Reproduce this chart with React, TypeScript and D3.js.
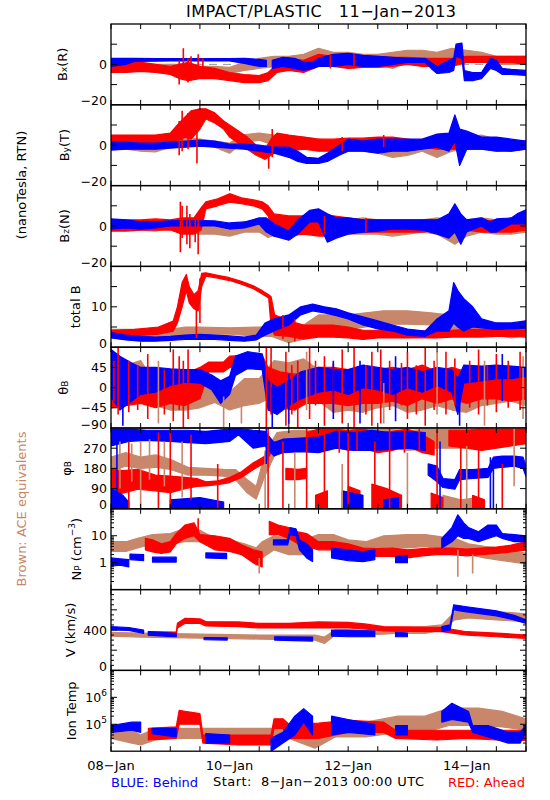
import React from 'react';
import * as d3 from 'd3';

type Pt = [number, number, number];
type Seg = Pt[];

const RED = '#ff0000';
const BLUE = '#0000ff';
const BROWN = '#c8876a';

// ---------- time axis (days since 08-Jan-2013 00:00) ----------
const DAY_TICKS = d3.range(0, 7.001, 0.5);
const DATE_LABEL_DAYS = [0, 2, 4, 6];
const DATE_LABELS = ['08\u2212Jan', '10\u2212Jan', '12\u2212Jan', '14\u2212Jan'];

// ---------- Bx (nT) ----------
const bxBrown: Seg[] = [[[0,-3,0],[0.25,-2,1],[0.5,-2,1],[0.75,-3,0],[1,-3,0],[1.25,-4,0],[1.5,-4,-1],[1.75,-4,-1],[2,-4.5,-1.5],[2.25,-3,1],[2.5,-2,3],[2.75,-1,4],[3,0,4],[3.25,1,5],[3.5,2,8],[3.75,0,6],[4,0,6],[4.25,-1,5],[4.5,0,5],[4.75,-2,6],[5,1,7],[5.25,2,7],[5.5,1,6],[5.75,2,8],[6,2,7],[6.25,2,6],[6.5,0,4],[6.75,0,4],[7,0,4]]];
const bxRed: Seg[] = [[[0,-4,1],[0.25,-4,1],[0.5,-3.5,1],[0.75,-4,0],[1,-5,-1],[1.15,-7,0],[1.3,-8,1],[1.5,-7,-1],[1.75,-7,-2],[2,-8,-4],[2.25,-9,-5],[2.5,-9,-5.5],[2.65,-8,-4],[2.8,-4,0],[3,-3,3],[3.25,-4,2],[3.5,-1,5],[3.75,-1,4],[4,-2,4],[4.25,-1.5,4],[4.5,-1.5,4],[4.75,-1,3.5],[5,0,3.5],[5.25,-1,3],[5.5,-1,3],[5.75,-1,3],[6,1,4],[6.25,1,4],[6.5,1,4],[6.75,1,4],[7,0,4]]];
const bxRedSpikes: Pt[] = [[1.15,-10,2],[1.22,-6,8],[1.3,-9,3],[1.35,-8,4],[1.47,-6,5],[1.55,-4,3],[3.7,-2,5],[4.1,-2,5]];
const bxBlue: Seg[] = [
  [[0,-1,3],[0.25,0,3],[0.4,1.5,3],[0.75,1.6,2.9],[1,1.7,2.9],[1.5,1.7,2.9],[2,1.7,2.9],[2.25,0.5,3],[2.5,-1,2.5],[2.62,-1,2]],
  [[2.72,-2,2],[2.9,-1,3.5],[3.1,-2,3],[3.25,-3,1],[3.4,-2,1],[3.5,-1,3],[3.75,-1,5],[4,0,5.5],[4.25,-1,4.5],[4.5,-1,4],[4.75,0,3.5],[5,1,3],[5.3,1,3],[5.4,-2,1],[5.5,-4.5,-1],[5.7,-4,2],[5.78,-3,3],[5.82,4,10],[5.92,3,10.5],[5.96,-8,-3],[6.1,-8,-4],[6.25,-7,-4],[6.4,-2,3],[6.5,-3,2],[6.6,-5,-2],[6.75,-5,-2.5],[7,-5.5,-3]],
];

// ---------- By (nT) ----------
const byBrown: Seg[] = [[[0,-2,3],[0.25,-2,3],[0.5,-3,2],[0.75,-3.3,1],[1,-1,3],[1.25,0,4],[1.5,0,3],[1.75,-1,2],[2,-4,1],[2.2,1,5],[2.5,2.5,6],[2.75,0,5],[3,-1,4],[3.25,-1,4],[3.5,-2,3],[3.75,-3,2],[4,-3,2],[4.25,-3,2],[4.5,-4,2],[4.75,-6,0],[5,-5,0],[5.25,-3,3],[5.5,-6,2],[5.75,-3,3],[6,-2,4],[6.25,-2,5],[6.5,-3,3],[6.75,-2,2],[7,-1,2]]];
const byRed: Seg[] = [[[0,1,5],[0.25,1,5],[0.5,0,5],[0.75,1,5],[1,0,6],[1.12,2,10],[1.25,4,14],[1.35,3,17],[1.5,8,18],[1.6,13,18],[1.75,11,16],[1.9,8,12],[2,4,10],[2.15,1,7],[2.3,-2,4],[2.45,-5,0],[2.6,-7,-2],[2.7,-5,3],[2.8,-3,6],[3,-3,5],[3.25,-2,4],[3.5,-3,3],[3.75,-3,3],[4,-2,3.5],[4.25,-2,3.5],[4.5,-1,4],[4.75,-1,4],[5,-2,3],[5.25,-1,2],[5.5,-2,1],[5.75,-2,1],[6,-2,3],[6.25,-2,3],[6.5,-2,3],[6.75,-3,2],[7,-2,2]]];
const byRedSpikes: Pt[] = [[1.15,-5,12],[1.2,-3,17],[1.3,-2,16],[1.45,-9,10],[2.66,-11.7,-4],[2.72,-6,8],[3.9,-3,4],[4.6,-1,5]];
const byBlue: Seg[] = [[[0,-2.5,1.5],[0.25,-2,1.5],[0.5,-2,1],[0.75,-2,1],[1,-1.5,1.5],[1.25,-1,2],[1.5,-0.5,2.5],[1.75,-1,2],[2,-1.5,0.5],[2.25,-2,0.5],[2.5,-3,0],[2.75,-4,-1],[3,-6,-1],[3.15,-8,-3],[3.3,-9,-6],[3.5,-9,-6.5],[3.65,-8,-4],[3.85,-5,0],[4,-3,3],[4.25,-3,2],[4.5,-4,3],[4.75,-3,3],[5,-3,3],[5.25,-2,3],[5.5,-1,5.5],[5.7,-3,6],[5.8,2,15],[5.88,-10,8],[6,-2,7],[6.25,-2,4],[6.5,-3,4],[6.75,-3,3],[7,-2,2]]];

// ---------- Bz (nT) ----------
const bzBrown: Seg[] = [[[0,-2,3],[0.25,-2,3],[0.5,-2,2.5],[0.75,-2.5,2],[1,-1,2.7],[1.25,-3,2],[1.5,-4,1],[1.75,-4,0],[2,-5,-1],[2.25,-3,2],[2.5,-3,2],[2.65,-5.7,-2],[2.8,-4,3],[3,-3,4],[3.25,-4,3],[3.5,-4,3],[3.75,-5,3],[4,-4,3],[4.25,-4,4],[4.5,-4,3],[4.75,-5,2],[5,-4,2],[5.25,-3,3],[5.5,-4,4],[5.8,-9,3],[6,-5,3],[6.25,-3,4],[6.5,-4,3],[6.75,-4,2],[7,-3,3]]];
const bzRed: Seg[] = [[[0,-2.5,3],[0.25,-2.5,3],[0.5,-2,3],[0.75,-2,3.5],[1,-2,3],[1.2,-4,4],[1.4,-4,4],[1.52,-2,9],[1.6,8.5,12],[1.8,10,13.5],[2,11.8,16],[2.2,11,14],[2.4,10,13],[2.55,8.5,12],[2.65,5,10],[2.75,-5,6],[3,-5,5],[3.25,-4,5],[3.5,-5,5],[3.75,-5,5],[4,-3,4],[4.25,-3,3],[4.5,-3,3],[4.75,-3,3],[5,-3,3],[5.25,-3,3],[5.5,-2,3],[5.75,-3,3],[6,-2,3],[6.25,-3,2],[6.5,-3,3],[6.75,-3,2],[7,-2,3]]];
const bzRedSpikes: Pt[] = [[1.17,-13,12],[1.2,-6,10],[1.28,-9,10],[1.33,-11,6],[1.42,-8,4],[1.47,-14,3],[3.6,-4,5],[4.3,-3,4]];
const bzBlue: Seg[] = [[[0,-1.5,3.5],[0.25,-1,3],[0.5,-1.5,2],[0.75,-1,2],[1,0,2.5],[1.25,0,2.7],[1.5,0,2.7],[1.75,0,2.5],[2,-1.5,1.5],[2.25,-1,2],[2.5,1,4],[2.62,-3,4],[2.75,-5,1],[3,-7,-2.5],[3.15,-4,3],[3.35,2,7.7],[3.5,2,8.5],[3.65,-8,6],[3.8,-6,4],[4,-4,4],[4.25,-3,3],[4.5,-2.5,3],[4.75,-1.5,3],[5,-1.5,3],[5.25,-2,3],[5.5,-4,3],[5.7,-6,6],[5.8,-3,11],[5.9,-9,6],[6,-3,3],[6.25,0,4],[6.4,-3,2],[6.5,-3,3.5],[6.75,1,4],[6.85,1,6],[7,1,8]]];

// ---------- total B (nT) ----------
const tbBrown: Seg[] = [[[0,2.7,4.4],[0.5,2.7,4.4],[1,2.7,4.4],[1.25,3,5],[1.5,3.2,5],[2,3.2,4.8],[2.5,2.7,5],[2.7,2.7,5.2],[3,1.1,5.7],[3.25,2,5.5],[3.5,4,8],[3.75,4.4,8],[4,4.4,8],[4.3,5,8.5],[4.6,5.7,9],[5,5.7,9],[5.4,5.5,8.5],[5.7,4,8],[6,4,7],[6.25,3.5,6.5],[6.5,3,6],[6.75,2.3,5.5],[7,3,6.5]]];
const tbRed: Seg[] = [[[0,2.7,4.2],[0.4,2.8,4.4],[0.8,3.2,5],[1.05,4,6.5],[1.12,6,10],[1.2,10,16],[1.27,14,18],[1.32,11,15],[1.4,9.5,13],[1.47,9,14],[1.53,15,18.3],[1.6,17.6,18.4],[1.8,17.1,17.8],[2,16.5,17.2],[2.2,15.6,16.3],[2.4,14.5,15.2],[2.55,13.2,14],[2.66,12.2,13],[2.7,5,12.5],[2.76,3,8],[3,2.7,6.5],[3.25,2,5.5],[3.5,2.5,5.5],[3.75,2.5,5.5],[4,2.3,5],[4.25,1.9,4.2],[4.5,2.3,4.2],[4.75,2.3,4],[5,2.3,4],[5.25,2.3,4],[5.5,2.3,4],[5.75,2.5,4.2],[6,2.5,4.4],[6.25,2.5,4.4],[6.5,2.7,4.4],[6.75,2.7,4.4],[7,2.5,4.2]]];
const tbRedSpikes: Pt[] = [[1.44,2.3,12],[1.5,6,17],[2.9,2,8],[3.1,1.5,7]];
const tbBlue: Seg[] = [[[0,2.3,3.6],[0.25,1.8,3],[0.5,1.5,2.7],[0.75,1.5,2.5],[1,1.7,2.7],[1.25,1.9,3],[1.5,1.9,3.2],[1.75,1.9,3],[2,1.7,2.8],[2.25,1.5,2.5],[2.45,1.8,3],[2.6,3,6],[2.75,4,7],[3,5.5,8],[3.2,8,10],[3.4,9,10.7],[3.6,8.5,10],[3.8,7.8,9.5],[4,7,8.5],[4.25,5.5,7.5],[4.5,4.5,6.5],[4.75,4,5.5],[5,3,4.5],[5.3,2.7,4],[5.5,4,7],[5.7,4,9],[5.78,6,16],[5.85,5,14],[5.95,4,12],[6.1,5,10],[6.25,4.8,7],[6.5,4.4,6],[6.75,4.6,6],[7,4.6,6.5]]];

// ---------- theta_B (deg) ----------
const thBrown: Seg[] = [[[0,-20,60],[0.25,-30,50],[0.5,-20,60],[0.75,-40,10],[1,-50,10],[1.25,-50,12],[1.5,-45,5],[1.75,-33,5],[2,-50,-10],[2.25,-40,20],[2.5,-35,20],[2.75,-20,60],[3,-15,55],[3.25,-18,64],[3.5,-30,40],[3.75,-55,20],[4,-50,20],[4.25,-55,15],[4.5,-45,20],[4.75,-40,15],[5,-55,20],[5.25,-50,20],[5.5,-40,25],[5.75,-50,20],[6,-55,20],[6.25,-40,40],[6.5,-35,50],[6.75,-30,40],[7,-40,40]]];
const thBrownSpikes: Pt[] = [[0.8,-80,60],[1.9,-88,-20],[2.2,-80,-30],[3.3,-50,80],[4.6,-80,10],[5.5,-60,80],[6.3,-85,60],[6.95,-70,70]];
const thRed: Seg[] = [[[0,-45,45],[0.25,-40,40],[0.5,-35,35],[0.75,-45,30],[1,-35,35],[1.25,-40,30],[1.5,-25,45],[1.65,35,57],[1.9,35,57],[2,45,70],[2.3,50,72],[2.55,50,72],[2.65,-30,45],[2.85,-45,35],[3.1,-50,30],[3.3,-35,35],[3.5,-35,45],[3.75,-35,45],[4,-40,40],[4.25,-35,45],[4.5,-35,40],[4.75,-30,45],[5,-40,40],[5.25,-25,50],[5.5,-35,35],[5.75,-25,45],[6,-35,35],[6.25,-25,40],[6.5,-25,45],[6.75,-30,40],[7,-25,35]]];
const thRedSpikes: Pt[] = [[0.05,-30,60],[0.12,-60,88],[0.3,-55,60],[0.45,-50,50],[0.62,-70,75],[0.9,-60,40],[1.05,-75,85],[1.15,-50,70],[1.22,-90,60],[1.3,-70,85],[2.62,-90,88],[2.7,-60,90],[2.95,-85,80],[3.05,-60,50],[3.15,-90,60],[3.35,-70,90],[3.45,-40,60],[3.6,-85,70],[3.75,-55,55],[3.9,-80,85],[4.1,-90,90],[4.3,-60,50],[4.4,-85,80],[4.55,-80,85],[4.7,-50,60],[4.9,-40,55],[5,-70,80],[5.15,-60,50],[5.3,-85,90],[5.45,-50,60],[5.65,-60,80],[5.8,-40,65],[6.05,-45,60],[6.2,-60,85],[6.35,-40,50],[6.5,-55,75],[6.7,-45,60],[6.9,-50,80]];
const thBlue: Seg[] = [[[0,-20,85],[0.15,-50,70],[0.35,-30,55],[0.5,-15,45],[0.75,-10,45],[1,5,42],[1.25,12,40],[1.5,10,40],[1.7,-5,28],[1.85,-35,15],[2,-15,25],[2.1,27,70],[2.3,42,80],[2.55,40,75],[2.65,-50,15],[2.8,-60,0],[3,-40,15],[3.2,-25,35],[3.5,-10,45],[3.75,-5,40],[4,-15,40],[4.25,0,50],[4.5,-5,45],[4.75,-15,40],[5,0,45],[5.25,-10,35],[5.5,5,45],[5.75,-10,40],[5.85,-60,20],[5.95,10,50],[6.25,15,48],[6.5,20,50],[6.75,20,48],[7,25,45]]];
const thBlueSpikes: Pt[] = [[0.2,-85,30],[2.72,-88,0],[3,-80,30],[3.75,-70,60],[4.2,-80,60],[4.8,-75,70],[5.88,-85,-20],[6.6,-30,75]];

// ---------- phi_B (deg) ----------
const phBrown: Seg[] = [
  [[0,170,230],[0.25,190,250],[0.5,180,230],[0.75,185,240],[1,175,220],[1.3,150,185],[1.6,150,180],[1.9,145,176],[2.1,130,175],[2.3,70,130],[2.45,43,100],[2.6,150,250],[2.8,260,340],[3.1,280,350],[3.5,290,350],[4,270,350],[4.5,280,355],[5,260,350],[5.5,270,355],[6,270,355],[6.5,280,358],[7,300,358]],
  [[5.6,0,60],[5.9,0,40],[6.2,0,50]],
];
const phBrownSpikes: Pt[] = [[0.15,90,300],[0.35,120,290],[0.5,0,300],[0.65,130,310],[0.9,100,300],[1.2,50,300],[2.6,0,260],[3.1,0,250],[3.9,0,200],[5,0,250],[6,0,280],[6.8,100,360]];
const phRed: Seg[] = [
  [[0,60,176],[0.2,70,170],[0.45,87,176],[0.75,80,150],[1,72,146],[1.25,90,140],[1.45,100,135],[1.6,102,120],[1.8,108,125],[2,117,139],[2.2,140,165],[2.4,175,205],[2.6,205,235],[2.7,250,295],[2.85,255,300]],
  [[2.95,130,180],[3.15,130,176],[3.3,135,180]],
  [[3.3,270,340],[3.5,260,355],[3.75,280,355],[4,260,350],[4.25,270,355],[4.5,250,340],[4.75,260,345],[5,280,355],[5.25,250,330],[5.45,240,300]],
  [[5.7,280,350],[6,270,350],[6.25,260,355],[6.5,270,355],[6.75,280,355],[7,290,355]],
  [[3.45,0,60],[3.65,0,80]],
  [[4,0,100],[4.2,0,80]],
  [[4.4,0,110],[4.65,0,90],[4.9,0,60]],
  [[5.4,0,70],[5.6,0,50]],
  [[6.1,0,60],[6.3,0,40]],
];
const phRedSpikes: Pt[] = [[0.3,0,300],[0.8,0,340],[1,0,360],[1.35,40,330],[1.8,0,200],[2.65,0,360],[2.9,0,300],[3.3,0,360],[3.6,0,350],[3.85,250,360],[4,0,360],[4.15,260,360],[4.45,0,300],[4.7,0,360],[4.95,250,360],[5.2,260,360],[5.5,0,350],[5.9,0,330],[6.2,0,360],[6.6,0,200]];
const phBlue: Seg[] = [
  [[0,280,355],[0.3,300,355],[0.6,305,350],[1,300,350],[1.3,295,350],[1.6,290,345],[2,300,355],[2.15,330,358],[2.4,270,350],[2.6,280,345],[2.75,235,295],[2.9,250,310],[3.2,255,315],[3.5,250,320],[3.8,270,345],[4.1,260,340],[4.4,260,350],[4.7,265,340],[5,270,345],[5.3,260,340]],
  [[5.35,150,200],[5.5,120,190],[5.6,95,135],[5.8,87,130],[5.88,130,175],[6.1,135,175],[6.36,140,180],[6.45,180,230],[6.6,185,235],[6.8,190,235],[6.95,180,230],[7,145,190]],
  [[0,0,90],[0.2,0,60],[0.3,0,30]],
  [[1,0,40],[1.5,0,50],[1.9,0,30]],
  [[3.9,0,80],[4.25,0,60]],
  [[4.6,0,40],[4.85,0,50]],
];
const phBlueSpikes: Pt[] = [[0.1,0,360],[2.62,200,360],[5.55,0,300],[6.4,0,230],[6.45,0,200]];

// ---------- Np (cm^-3) ----------
const npBrown: Seg[] = [[[0,2.6,6],[0.25,2.6,6],[0.45,3.5,8],[0.7,5,11],[1,5,12],[1.25,6,19],[1.5,6,16],[1.75,4,8],[2,3,7],[2.25,2,5],[2.45,0.8,3.5],[2.55,1.5,6],[2.75,3,10],[3,2,8],[3.25,2,7],[3.5,4.6,11],[3.75,4.6,11],[4,3.5,7],[4.3,2.6,6],[4.6,3.5,10],[5,3.5,11],[5.3,4,11],[5.58,3,9],[5.8,2.6,8],[6.03,2,5],[6.3,1.5,4],[6.6,1.2,3.5],[7,0.9,2.2]]];
const npBrownSpikes: Pt[] = [[5.85,0.3,3],[6.1,0.4,2],[2.5,0.4,1.5]];
const npRed: Seg[] = [
  [[0.58,3,8],[0.7,2.5,7],[0.85,2.2,5],[1,2.5,6],[1.1,5,12],[1.25,8,25],[1.4,10,30],[1.5,6,11],[1.75,3,10],[2,2.6,8],[2.2,2,4.6],[2.4,1,3],[2.55,0.7,2.5]],
  [[2.67,11,34],[2.82,11,25],[3,8,20],[3.15,5,14],[3.3,4,12],[3.5,3,6],[3.75,3,6],[4,2.5,5],[4.25,1.5,3.5],[4.5,1.7,3.3],[4.75,1.7,3.5],[5,1.5,3],[5.25,1.8,3.3],[5.5,2,3.5],[5.75,2,3.5],[6,1.8,3.2],[6.25,2,3.5],[6.5,2.2,3.8],[6.75,2.5,4.5],[7,3,6]],
];
const npRedSpikes: Pt[] = [[1.47,10,45]];
const npBlue: Seg[] = [
  [[0,0.75,1.5],[0.15,0.8,1.4],[0.3,0.7,1.3]],
  [[0.32,1.3,2.1],[0.55,1.2,2]],
  [[0.7,1.05,1.6],[1.1,1.05,1.6]],
  [[1.6,1.5,2.3],[1.95,1.4,2.2]],
  [[2.74,4.6,7],[2.98,4.6,7],[3.02,11,20],[3.12,10,18],[3.18,3,7],[3.3,1.5,5],[3.4,1.1,3]],
  [[3.72,1.5,3.5],[4,1.2,3],[4.25,1.1,2.5],[4.45,1.3,3]],
  [[4.8,1,1.7],[5,1,1.8]],
  [[5.58,3.5,8],[5.75,6,20],[5.85,10,60],[5.95,8,30],[6.03,8,20],[6.2,6,14],[6.36,8,25],[6.5,10,25],[6.6,8,12],[6.8,6,11],[7,6,10]],
];

// ---------- V (km/s) ----------
const vBrown: Seg[] = [[[0,340,376],[0.5,330,370],[1,325,365],[1.5,320,360],[2,315,355],[2.5,310,350],[3,305,350],[3.44,300,350],[3.6,266,330],[3.78,350,400],[4.3,350,400],[4.8,366,420],[5.3,366,433],[5.58,400,450],[5.8,500,580],[6.03,520,616],[6.5,500,583],[7,483,560]]];
const vRed: Seg[] = [[[0.63,350,383],[1.1,345,380],[1.12,420,466],[1.25,466,516],[1.5,466,510],[1.6,440,483],[2.15,433,480],[2.5,420,466],[3,420,466],[3.5,420,480],[4,420,475],[4.28,410,460],[4.6,390,433],[5,385,430],[5.58,383,425],[6,350,383],[6.5,333,370],[7,316,350]]];
const vBlue: Seg[] = [
  [[0,400,433],[0.3,395,425],[0.55,367,400]],
  [[0.63,350,383],[0.9,340,375],[1.1,333,365]],
  [[1.57,305,325],[1.96,300,323]],
  [[2.76,300,333],[3.4,290,330]],
  [[3.72,340,400],[4,333,400],[4.45,333,390]],
  [[4.8,333,376],[5,333,370]],
  [[5.58,383,433],[5.72,400,450],[5.78,600,650],[6,580,630],[6.5,540,590],[6.8,500,545],[7,466,500]],
];

// ---------- Ion temperature (K) ----------
const tpBrown: Seg[] = [[[0,3e4,8e4],[0.35,2e4,6e4],[0.5,1.7e4,4e4],[0.75,2.6e4,7e4],[1,3e4,7e4],[1.5,3e4,7e4],[2,2.6e4,7e4],[2.5,2.6e4,7e4],[3,3e4,7e4],[3.44,1.3e4,7e4],[3.78,3.4e4,1.2e5],[4.3,3.4e4,1.2e5],[4.84,5e4,2e5],[5.3,5e4,2e5],[5.7,9e4,4e5],[6.2,9e4,4e5],[6.6,8e4,3e5],[7,6e4,1.6e5]]];
const tpRed: Seg[] = [[[0.63,2.6e4,7e4],[1.1,3e4,8e4],[1.15,1e5,3.3e5],[1.25,1e5,3e5],[1.5,1e5,2.5e5],[1.55,2e4,4e4],[2.15,1.7e4,4e4],[2.7,1.7e4,4e4],[2.75,7e4,1.6e5],[2.9,7e4,1.6e5],[3,3e4,1e5],[3.5,3e4,1.1e5],[4,5e4,1.4e5],[4.6,5e4,1.2e5],[4.8,3e4,6e4],[5.5,2.6e4,6e4],[6,3e4,6e4],[6.5,2.6e4,6e4],[7,2.5e4,6e4]]];
const tpBlue: Seg[] = [
  [[0,5e4,9e4],[0.35,6e4,1.2e5],[0.5,5e4,1.2e5]],
  [[0.69,4.5e4,7e4],[1.1,3.4e4,7e4]],
  [[1.6,2e4,4.5e4],[2,2e4,4e4]],
  [[2.7,1e4,3e4],[2.9,2e4,5e4],[3.1,4e4,2e5],[3.25,1.2e5,3.8e5],[3.4,4e4,2e5]],
  [[3.72,4e4,2e5],[4,5e4,1.5e5],[4.45,4e4,1e5]],
  [[4.8,4e4,9e4],[5,4e4,9e4]],
  [[5.58,1.2e5,3e5],[5.75,1.5e5,6e5],[6.03,1.2e5,3e5],[6.1,5e4,9e4],[6.36,3.4e4,9e4],[6.7,2e4,5e4],[6.9,2e4,5e4],[7,5e4,9e4]],
];

// ---------- layout ----------
const W = 550, H = 800;
const X0 = 111, X1 = 526;
const TOP = 24, PH = 80.8;
const FONT = 'DejaVu Sans, Verdana, sans-serif';

interface Series { color: string; segs: Seg[]; spikes?: Pt[] }
interface Panel {
  log?: boolean; domain: [number, number]; major: number[]; minor: number[];
  labels: { v: number; t: React.ReactNode }[]; zero?: boolean; series: Series[];
  title: React.ReactNode; tx: number;
}

const sub = (s: string) => <tspan baselineShift="-25%" fontSize="9">{s}</tspan>;
const sup = (s: string) => <tspan baselineShift="40%" fontSize="9">{s}</tspan>;
const logMinor = (lo: number, hi: number) => {
  const out: number[] = [];
  for (let d = lo; d < hi * 0.999; d *= 10) for (let k = 2; k <= 9; k++) out.push(d * k);
  return out;
};

const panels: Panel[] = [
  { domain: [-20, 20], major: [-10, 0, 10], minor: [], labels: [{ v: 0, t: '0' }, { v: -20, t: '\u221220' }], zero: true,
    series: [{ color: BROWN, segs: bxBrown }, { color: RED, segs: bxRed, spikes: bxRedSpikes }, { color: BLUE, segs: bxBlue }],
    title: <>B{sub('x')}(R)</>, tx: 62 },
  { domain: [-20, 20], major: [-10, 0, 10], minor: [], labels: [{ v: 0, t: '0' }, { v: -20, t: '\u221220' }], zero: true,
    series: [{ color: BROWN, segs: byBrown }, { color: RED, segs: byRed, spikes: byRedSpikes }, { color: BLUE, segs: byBlue }],
    title: <>B{sub('y')}(T)</>, tx: 64 },
  { domain: [-20, 20], major: [-10, 0, 10], minor: [], labels: [{ v: 0, t: '0' }, { v: -20, t: '\u221220' }], zero: true,
    series: [{ color: BROWN, segs: bzBrown }, { color: RED, segs: bzRed, spikes: bzRedSpikes }, { color: BLUE, segs: bzBlue }],
    title: <>B{sub('z')}(N)</>, tx: 64 },
  { domain: [0, 20], major: [5, 10, 15], minor: [], labels: [{ v: 10, t: '10' }, { v: 0, t: '0' }],
    series: [{ color: BROWN, segs: tbBrown }, { color: RED, segs: tbRed, spikes: tbRedSpikes }, { color: BLUE, segs: tbBlue }],
    title: 'total B', tx: 75 },
  { domain: [-90, 90], major: [-45, 0, 45], minor: [], labels: [{ v: 45, t: '45' }, { v: 0, t: '0' }, { v: -45, t: '\u221245' }, { v: -90, t: '\u221290' }],
    series: [{ color: BROWN, segs: thBrown, spikes: thBrownSpikes }, { color: RED, segs: thRed, spikes: thRedSpikes }, { color: BLUE, segs: thBlue, spikes: thBlueSpikes }],
    title: <>{'\u03b8'}{sub('B')}</>, tx: 63 },
  { domain: [0, 360], major: [90, 180, 270], minor: [], labels: [{ v: 270, t: '270' }, { v: 180, t: '180' }, { v: 90, t: '90' }, { v: 0, t: '0' }],
    series: [{ color: BROWN, segs: phBrown, spikes: phBrownSpikes }, { color: RED, segs: phRed, spikes: phRedSpikes }, { color: BLUE, segs: phBlue, spikes: phBlueSpikes }],
    title: <>{'\u03c6'}{sub('B')}</>, tx: 66 },
  { log: true, domain: [0.1, 100], major: [1, 10], minor: logMinor(0.1, 100), labels: [{ v: 10, t: '10' }, { v: 1, t: '1' }],
    series: [{ color: BROWN, segs: npBrown, spikes: npBrownSpikes }, { color: RED, segs: npRed, spikes: npRedSpikes }, { color: BLUE, segs: npBlue }],
    title: <>N{sub('P')} (cm{sup('\u22123')})</>, tx: 76 },
  { domain: [0, 800], major: [200, 400, 600], minor: d3.range(50, 800, 50), labels: [{ v: 400, t: '400' }, { v: 0, t: '0' }],
    series: [{ color: BROWN, segs: vBrown }, { color: RED, segs: vRed }, { color: BLUE, segs: vBlue }],
    title: 'V (km/s)', tx: 70 },
  { log: true, domain: [1e4, 1e7], major: [1e5, 1e6], minor: logMinor(1e4, 1e7), labels: [{ v: 1e6, t: <>10{sup('6')}</> }, { v: 1e5, t: <>10{sup('5')}</> }],
    series: [{ color: BROWN, segs: tpBrown }, { color: RED, segs: tpRed }, { color: BLUE, segs: tpBlue }],
    title: 'Ion Temp', tx: 71 },
];

export default function App() {
  const xs = d3.scaleLinear().domain([0, 7]).range([X0, X1]);
  return (
    <svg width={W} height={H} viewBox={`0 0 ${W} ${H}`} style={{ display: 'block', position: 'absolute', left: 0, top: 0, background: '#fff' }}
      fontFamily={FONT}>
      <rect width={W} height={H} fill="#fff" />
      <text x={321} y={17} textAnchor="middle" fontSize={16} textLength={270} lengthAdjust="spacing" xmlSpace="preserve" style={{ whiteSpace: 'pre' }}>
        {'IMPACT/PLASTIC   11\u2212Jan\u22122013'}
      </text>
      {panels.map((p, i) => {
        const top = TOP + i * PH;
        const bot = top + PH;
        const ys: any = p.log
          ? d3.scaleLog().domain(p.domain).range([bot, top])
          : d3.scaleLinear().domain(p.domain).range([bot, top]);
        const area = d3.area<Pt>().x(d => xs(d[0])).y0(d => ys(d[1])).y1(d => ys(d[2]));
        const mid = (top + bot) / 2;
        return (
          <g key={i}>
            <clipPath id={`clip${i}`}><rect x={X0} y={top} width={X1 - X0} height={PH} /></clipPath>
            <g clipPath={`url(#clip${i})`}>
              {p.zero && <line x1={X0} x2={X1} y1={ys(0)} y2={ys(0)} stroke="#999" strokeWidth={1} strokeDasharray="8,6" />}
              {p.series.map((s, j) => (
                <g key={'b' + j}>
                  {s.segs.map((seg, k) => (
                    <path key={k} d={area(seg) || ''} fill={s.color} stroke={s.color} strokeWidth={1.2} strokeLinejoin="round" />
                  ))}
                </g>
              ))}
              {p.series.map((s, j) => (
                <g key={'s' + j}>
                  {(s.spikes || []).map((sp, k) => (
                    <line key={k} x1={xs(sp[0])} x2={xs(sp[0])} y1={ys(sp[1])} y2={ys(sp[2])} stroke={s.color} strokeWidth={1.6} />
                  ))}
                </g>
              ))}
            </g>
            {p.major.map(v => (
              <g key={'M' + v}>
                <line x1={X0} x2={X0 + 6} y1={ys(v)} y2={ys(v)} stroke="#000" />
                <line x1={X1} x2={X1 - 6} y1={ys(v)} y2={ys(v)} stroke="#000" />
              </g>
            ))}
            {p.minor.filter(v => !p.major.includes(v)).map(v => (
              <g key={'m' + v}>
                <line x1={X0} x2={X0 + 3} y1={ys(v)} y2={ys(v)} stroke="#000" />
                <line x1={X1} x2={X1 - 3} y1={ys(v)} y2={ys(v)} stroke="#000" />
              </g>
            ))}
            {DAY_TICKS.map(t => (
              <g key={'x' + t}>
                <line x1={xs(t)} x2={xs(t)} y1={top} y2={top + 5} stroke="#000" />
                <line x1={xs(t)} x2={xs(t)} y1={bot} y2={bot - 5} stroke="#000" />
              </g>
            ))}
            {p.labels.map((l, k) => (
              <text key={'l' + k} x={107} y={ys(l.v) - (l.v === p.domain[0] ? 4 : 0)} textAnchor="end" dominantBaseline="central" fontSize={12.5}>
                {l.t}
              </text>
            ))}
            <rect x={X0} y={top} width={X1 - X0} height={PH} fill="none" stroke="#000" strokeWidth={1.3} />
            <text transform={`translate(${p.tx},${mid}) rotate(-90)`} textAnchor="middle" dominantBaseline="central" fontSize={13}>
              {p.title}
            </text>
          </g>
        );
      })}
      <text transform="translate(21,185) rotate(-90)" textAnchor="middle" dominantBaseline="central" fontSize={13}>(nanoTesla,  RTN)</text>
      <text transform="translate(21,509) rotate(-90)" textAnchor="middle" dominantBaseline="central" fontSize={13} fill={BROWN}>Brown:  ACE  equivalents</text>
      {DATE_LABEL_DAYS.map((d, k) => (
        <text key={d} x={xs(d)} y={770} textAnchor="middle" fontSize={13}>{DATE_LABELS[k]}</text>
      ))}
      <text x={111} y={787} fontSize={13} fill={BLUE}>BLUE:  Behind</text>
      <text x={213} y={786} fontSize={13} textLength={211} lengthAdjust="spacing" xmlSpace="preserve" style={{ whiteSpace: 'pre' }}>{'Start:  8\u2212Jan\u22122013 00:00 UTC'}</text>
      <text x={525} y={787} fontSize={13} textAnchor="end" fill={RED}>RED:  Ahead</text>
    </svg>
  );
}
